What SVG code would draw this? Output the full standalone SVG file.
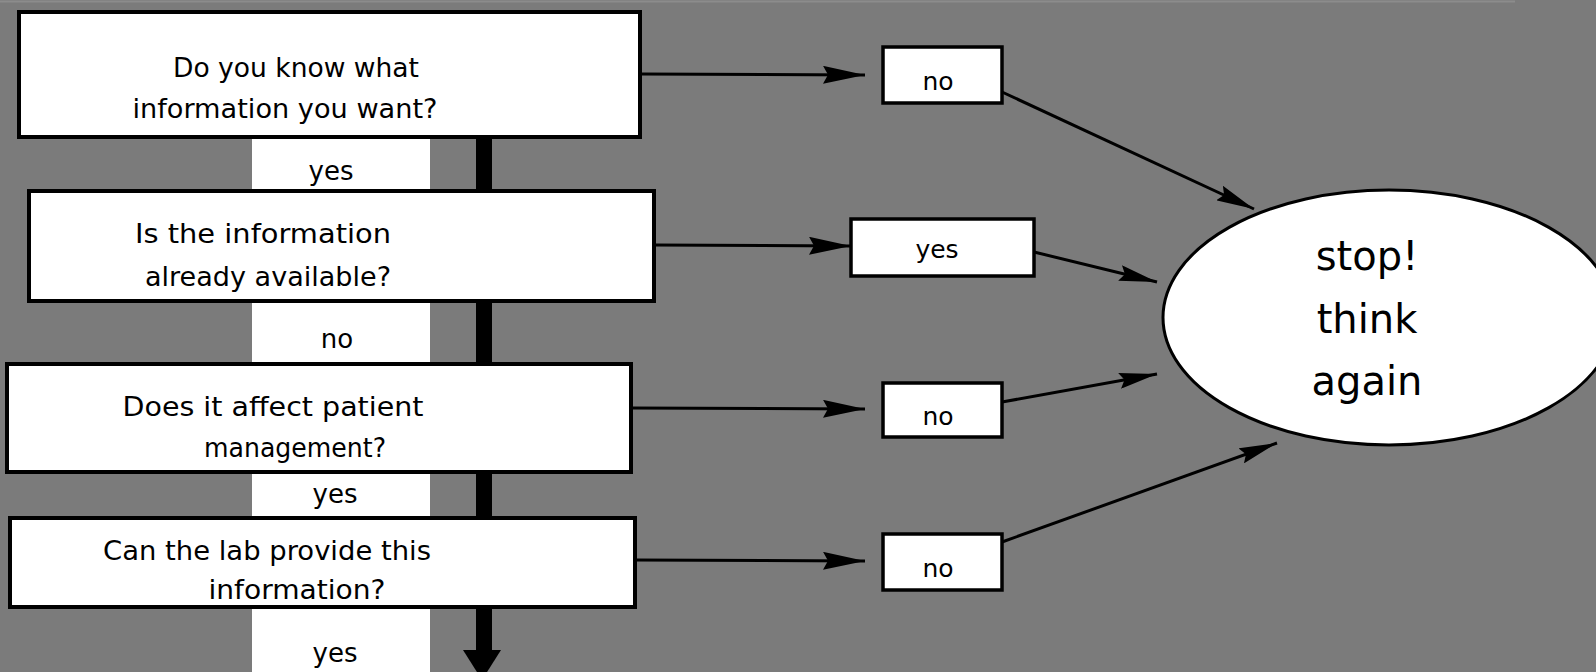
<svg xmlns="http://www.w3.org/2000/svg" width="1596" height="672" viewBox="0 0 1596 672">
<defs>
<style>
.bg{fill:#7b7b7b}
.box{fill:#fff;stroke:#000;stroke-width:4}
.rbox{fill:#fff;stroke:#000;stroke-width:3.5}
.lab{fill:#fff}
.t{font-family:"DejaVu Sans","Liberation Sans",sans-serif;font-size:26px;fill:#000;text-anchor:middle}
.tr{font-family:"DejaVu Sans","Liberation Sans",sans-serif;font-size:25px;fill:#000;text-anchor:middle}
.big{font-family:"DejaVu Sans","Liberation Sans",sans-serif;font-size:40px;fill:#000;text-anchor:middle}
.c{stroke:#000;stroke-width:3;fill:none}
</style>
<marker id="ah" markerUnits="userSpaceOnUse" markerWidth="44" markerHeight="18" refX="42" refY="9" orient="auto">
<path d="M0,0 L42,9 L0,18 L5,9 Z" fill="#000"/>
</marker>
<marker id="ahd" markerUnits="userSpaceOnUse" markerWidth="40" markerHeight="16" refX="38" refY="8" orient="auto">
<path d="M0,0 L38,8 L0,16 L5,8 Z" fill="#000"/>
</marker>
</defs>
<rect class="bg" x="0" y="0" width="1596" height="672"/>
<line x1="0" y1="1.5" x2="1515" y2="1.5" stroke="#8c8c8c" stroke-width="2"/>

<g id="flow-arrow">
<rect x="476" y="137" width="16" height="516" fill="#000"/>
<polygon points="463,650 501,650 482,680" fill="#000"/>
</g>

<g id="ans1"><rect class="lab" x="252" y="136" width="178" height="56"/><text class="t" x="331" y="180">yes</text></g>
<g id="ans2"><rect class="lab" x="252" y="300" width="178" height="65"/><text class="t" x="337" y="348">no</text></g>
<g id="ans3"><rect class="lab" x="252" y="471" width="178" height="48"/><text class="t" x="335" y="503">yes</text></g>
<g id="ans4"><rect class="lab" x="252" y="606" width="178" height="66"/><text class="t" x="335" y="662">yes</text></g>

<g id="q1">
<rect class="box" x="19" y="12" width="621" height="125"/>
<text class="t" x="296" y="77" textLength="246" lengthAdjust="spacingAndGlyphs">Do you know what</text>
<text class="t" x="285" y="118" textLength="305" lengthAdjust="spacingAndGlyphs">information you want?</text>
</g>
<g id="q2">
<rect class="box" x="29" y="191" width="625" height="110"/>
<text class="t" x="263" y="243" textLength="256" lengthAdjust="spacingAndGlyphs">Is the information</text>
<text class="t" x="268" y="286" textLength="246" lengthAdjust="spacingAndGlyphs">already available?</text>
</g>
<g id="q3">
<rect class="box" x="7" y="364" width="624" height="108"/>
<text class="t" x="273" y="416" textLength="301" lengthAdjust="spacingAndGlyphs">Does it affect patient</text>
<text class="t" x="295" y="457" textLength="182" lengthAdjust="spacingAndGlyphs">management?</text>
</g>
<g id="q4">
<rect class="box" x="10" y="518" width="625" height="89"/>
<text class="t" x="267" y="560" textLength="328" lengthAdjust="spacingAndGlyphs">Can the lab provide this</text>
<text class="t" x="297" y="599" textLength="177" lengthAdjust="spacingAndGlyphs">information?</text>
</g>

<g id="r1"><rect class="rbox" x="883" y="47" width="119" height="56"/><text class="tr" x="938" y="90">no</text></g>
<g id="r2"><rect class="rbox" x="851" y="219" width="183" height="57"/><text class="tr" x="937" y="258">yes</text></g>
<g id="r3"><rect class="rbox" x="883" y="383" width="119" height="54"/><text class="tr" x="938" y="425">no</text></g>
<g id="r4"><rect class="rbox" x="883" y="534" width="119" height="56"/><text class="tr" x="938" y="577">no</text></g>

<g id="stop">
<ellipse cx="1389" cy="317.5" rx="226" ry="127.5" fill="#fff" stroke="#000" stroke-width="3"/>
<text class="big" x="1367" y="270">stop!</text>
<text class="big" x="1367" y="333">think</text>
<text class="big" x="1367" y="395">again</text>
</g>

<g id="connectors">
<line class="c" x1="640" y1="74" x2="865" y2="75" marker-end="url(#ah)"/>
<line class="c" x1="654" y1="245" x2="851" y2="246" marker-end="url(#ah)"/>
<line class="c" x1="631" y1="408" x2="865" y2="409" marker-end="url(#ah)"/>
<line class="c" x1="635" y1="560" x2="865" y2="561" marker-end="url(#ah)"/>
<line class="c" x1="1002" y1="92" x2="1254" y2="209" marker-end="url(#ahd)"/>
<line class="c" x1="1034" y1="252" x2="1157" y2="282" marker-end="url(#ahd)"/>
<line class="c" x1="1002" y1="402" x2="1157" y2="374" marker-end="url(#ahd)"/>
<line class="c" x1="1002" y1="542" x2="1277" y2="443" marker-end="url(#ahd)"/>
</g>
</svg>
